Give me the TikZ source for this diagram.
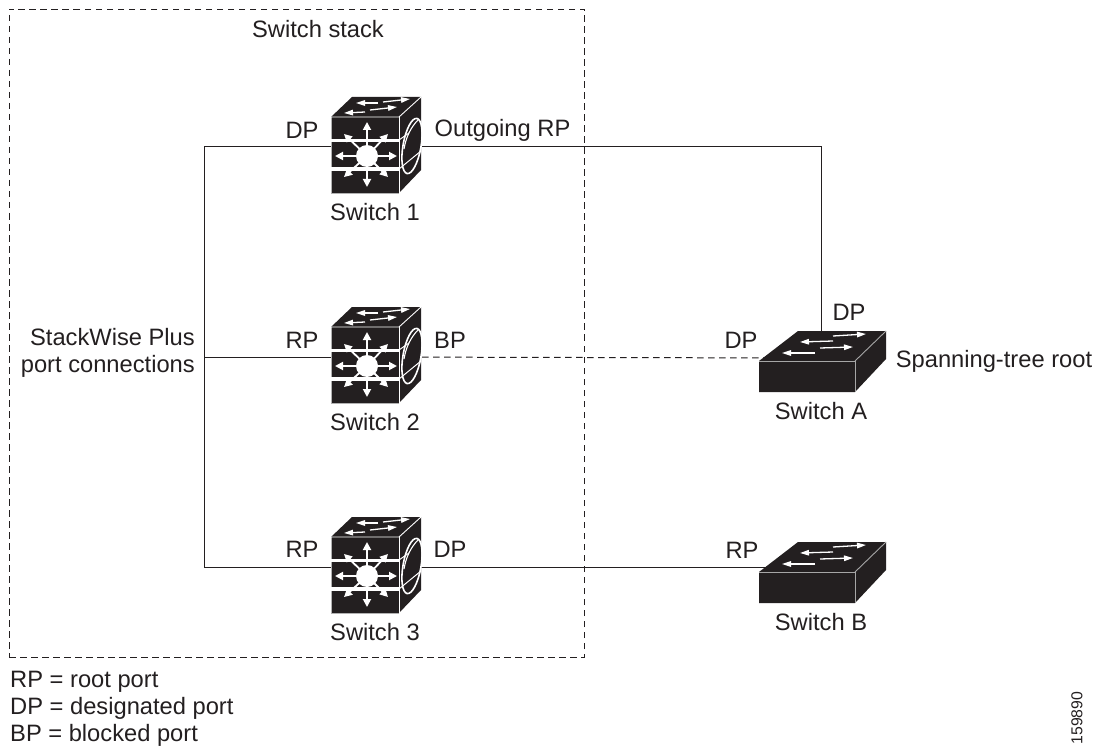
\documentclass[tikz,border=0pt]{standalone}
\usepackage{fontspec}
\setmainfont{Liberation Sans}
\usetikzlibrary{arrows.meta}
\definecolor{ink}{HTML}{231F20}
\tikzset{
  x=1pt,y=-1pt,
  lbl/.style={inner sep=0pt,text=ink,font=\fontsize{23.7}{27}\selectfont,align=center},
  legend/.style={inner sep=0pt,anchor=west,text=ink,font=\fontsize{23.7}{27}\selectfont},
  wire/.style={draw=ink,line width=1pt},
  blockedwire/.style={draw=ink,line width=1pt,dash pattern=on 6.5pt off 4.5pt},
  stackframe/.style={draw=ink,line width=0.8pt,dash pattern=on 6.5pt off 4.5pt},
  anchorbox/.style={inner sep=0pt,minimum width=68pt,minimum height=70pt},
  wa/.style={draw=white,line width=1.8pt,-{Triangle[width=8pt,length=8pt]}},
  ta/.style={draw=white,line width=1.3pt,-{Triangle[width=5.5pt,length=9pt]}},
  bigswitch/.pic={
    \fill[ink] (-36,-39) -- (-15,-59) -- (54,-59) -- (54,14) -- (32,37) -- (-36,37) -- cycle;
    \draw[black!30,line width=0.9pt] (-36,-39) -- (-36,37) -- (32,37);
    \draw[white,line width=0.9pt] (-36,-39) -- (32,-39) -- (54,-59);
    \draw[white,line width=1pt] (32,-39) -- (32,37);
    \fill[white] (-36,-17) rectangle (32,-14);
    \fill[white] (-36,11) rectangle (32,15);
    \draw[white,line width=1pt] (32,-16) -- (42,-23);
    \draw[white,line width=1pt] (32,13) -- (54,-5);
    \draw[white,line width=1.6pt,rotate around={-10:(45,-10)}] (45,-10) ellipse [x radius=9,y radius=28];
    \draw[white,line width=1.1pt] (37,-7) .. controls (39,-19) and (44,-29) .. (51,-36);
    \draw[wa] (0,0) -- (0,-34);
    \draw[wa] (0,0) -- (0,31);
    \draw[wa] (0,0) -- (-32,0);
    \draw[wa] (0,0) -- (30,0);
    \draw[wa] (0,0) -- (-23,-22);
    \draw[wa] (0,0) -- (21,-22);
    \draw[wa] (0,0) -- (-23,21);
    \draw[wa] (0,0) -- (21,21);
    \fill[white] (0,0) circle [radius=11];
    \draw[ta] (11,-53) -- (-11,-53);
    \draw[ta] (16,-54) -- (43,-57);
    \draw[ta] (-2,-44) -- (-23,-43);
    \draw[ta] (3,-46) -- (30,-49);
  },
  smallswitch/.pic={
    \fill[ink] (0,0) -- (39,-30) -- (127,-30) -- (127,-2) -- (96,31) -- (0,31) -- cycle;
    \draw[black!35,line width=0.9pt] (0,0) -- (96,0) -- (96,31);
    \draw[black!35,line width=0.9pt] (96,0) -- (127,-30);
    \draw[ta] (74,-20) -- (41,-19);
    \draw[ta] (74,-25) -- (107,-27);
    \draw[ta] (61,-13) -- (94,-14);
    \draw[ta] (56,-8) -- (23,-8);
  }
}
\begin{document}
\begin{tikzpicture}[x=1pt,y=-1pt]
\useasboundingbox (0,0) rectangle (1101,746);
\fill[white] (0,0) rectangle (1101,746);
\node[inner sep=0pt,minimum width=575pt,minimum height=648pt,stackframe] (stack) at (296.5,333) {};
\node[anchorbox] (s1) at (367,147) {};
\node[anchorbox] (s2) at (367,357) {};
\node[anchorbox] (s3) at (367,567) {};
\node[inner sep=0pt,minimum width=96pt,minimum height=30pt] (sa) at (807,358) {};
\node[inner sep=0pt,minimum width=96pt,minimum height=30pt] (sb) at (807,567) {};
\coordinate (bus) at (204.5,357);
\coordinate (turn) at (821,147);
\draw[wire] (s1.center) -- (bus |- s1.center) -- (bus |- s3.center) -- (s3.center);
\draw[wire] (bus) -- (s2.center);
\draw[wire] (s1.center) -- (turn) -- (turn |- sa.center);
\draw[blockedwire] (s2.center) -- (sa.center);
\draw[wire] (s3.center) -- (sb.center);
\pic at (367,156) {bigswitch};
\pic at (367,366) {bigswitch};
\pic at (367,576) {bigswitch};
\pic at (759,361) {smallswitch};
\pic at (759,572) {smallswitch};
\node[lbl] (t0) at (318,29) {Switch stack};
\node[lbl] (t1) at (302,130) {DP};
\node[lbl] (t2) at (502.5,130) {Outgoing RP};
\node[lbl] (t3) at (375,212) {Switch 1};
\node[lbl,anchor=east,align=right] (t4) at (195,353) {StackWise Plus\\port connections};
\node[lbl] (t5) at (302,340) {RP};
\node[lbl] (t6) at (450,340) {BP};
\node[lbl] (t7) at (375,422) {Switch 2};
\node[lbl] (t8) at (741,340) {DP};
\node[lbl] (t9) at (849,312) {DP};
\node[lbl] (t10) at (994,361) {Spanning-tree root};
\node[lbl] (t11) at (821,411) {Switch A};
\node[lbl] (t12) at (302,549) {RP};
\node[lbl] (t13) at (450,549) {DP};
\node[lbl] (t14) at (375,632) {Switch 3};
\node[lbl] (t15) at (742,550) {RP};
\node[lbl] (t16) at (821,622) {Switch B};
\node[legend] (l1) at (10,682) {RP = root port};
\node[legend] (l2) at (10,708) {DP = designated port};
\node[legend] (l3) at (10,735) {BP = blocked port};
\node[inner sep=0pt,rotate=90,text=ink,font=\fontsize{15.8}{18}\selectfont] (id) at (1077,718) {159890};
\end{tikzpicture}
\end{document}
